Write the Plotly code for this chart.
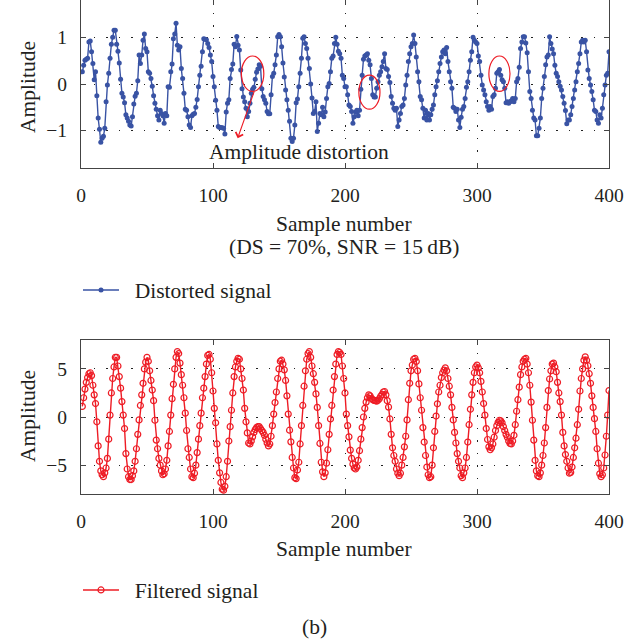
import plotly.graph_objects as go

samples = list(range(1, 401))

distorted = [
    0.26, 0.4, 0.51, 0.53, 0.55, 0.9, 0.92, 0.69, 0.44, 0.09,
    0.26, -0.25, -0.73, -0.97, -1.25, -1.16, -1.12, -0.95, -0.38, -0.02,
    0.23, 0.55, 0.85, 1.0, 1.15, 1.15, 0.85, 0.7, 0.45, 0.1,
    -0.2, -0.28, -0.4, -0.66, -0.73, -0.8, -0.88, -0.9, -0.7, -0.43,
    -0.26, -0.2, 0.07, 0.62, 0.44, 0.62, 0.94, 1.07, 0.76, 0.69,
    0.26, 0.23, 0.12, -0.05, -0.25, -0.41, -0.54, -0.68, -0.77, -0.56,
    -0.63, -0.68, -0.84, -0.63, -0.68, -0.06, -0.07, 0.26, 0.43, 0.97,
    1.07, 1.3, 0.83, 0.73, 0.8, 0.33, 0.12, -0.2, -0.54, -0.56,
    -0.7, -0.88, -0.93, -0.68, -0.65, -0.63, -0.5, -0.33, -0.06, 0.19,
    0.38, 0.69, 0.97, 0.96, 0.95, 0.87, 0.78, 0.62, 0.48, 0.16,
    -0.06, -0.35, -0.56, -0.91, -0.93, -0.93, -0.94, -0.95, -1.07, -0.6,
    -0.41, -0.34, 0.12, 0.31, 0.43, 0.85, 0.8, 1.02, 0.83, 0.73,
    0.3, -0.1, -0.28, -0.38, -0.52, -0.7, -0.59, -0.41, -0.2, -0.11,
    -0.07, 0.1, 0.25, 0.32, 0.41, 0.38, -0.1, -0.27, -0.34, -0.41,
    -0.59, -0.64, -0.64, -0.23, 0.16, 0.23, 0.41, 0.62, 1.01, 1.06,
    1.01, 0.8, 0.45, 0.15, -0.13, -0.34, -0.56, -0.8, -1.16, -1.23,
    -1.16, -0.88, -0.4, -0.32, -0.06, 0.23, 0.55, 0.98, 1.01, 0.87,
    0.76, 0.55, 0.33, 0.0, -0.3, -0.63, -0.59, -0.38, -1.02, -0.84,
    -0.63, -0.66, -0.5, -0.7, -0.6, -0.31, -0.06, 0.01, 0.26, 0.55,
    0.6, 0.87, 1.0, 0.85, 0.7, 0.65, 0.55, 0.19, 0.12, -0.06,
    -0.06, -0.23, -0.45, -0.48, -0.59, -0.84, -0.7, -0.6, -0.56, -0.68,
    -0.56, -0.11, 0.19, 0.53, 0.6, 0.62, 0.65, 0.51, 0.41, 0.12,
    -0.23, -0.28, -0.28, -0.09, 0.05, 0.19, 0.26, 0.37, 0.48, 0.65,
    0.33, 0.31, 0.16, 0.03, -0.27, -0.41, -0.52, -0.56, -0.52, -0.91,
    -0.77, -0.63, -0.48, -0.45, -0.31, -0.02, 0.19, 0.48, 0.65, 0.8,
    0.87, 1.05, 0.87, 0.58, 0.26, 0.05, -0.27, -0.34, -0.52, -0.73,
    -0.56, -0.77, -0.63, -0.77, -0.66, -0.54, -0.45, -0.23, -0.06, 0.07,
    0.26, 0.44, 0.58, 0.69, 0.73, 0.65, 0.78, 0.48, 0.26, 0.05,
    -0.09, -0.5, -0.52, -0.59, -0.54, -0.77, -0.93, -0.71, -0.54, -0.48,
    -0.31, -0.07, 0.05, 0.26, 0.51, 0.69, 1.0, 0.94, 0.9, 0.87,
    0.6, 0.48, 0.19, -0.02, -0.13, -0.23, -0.38, -0.48, -0.56, -0.48,
    -0.54, -0.27, -0.23, -0.09, 0.23, 0.26, 0.31, 0.19, 0.09, 0.05,
    -0.09, -0.4, -0.38, -0.41, -0.38, -0.36, -0.31, -0.38, -0.31, 0.05,
    0.12, 0.36, 0.76, 0.9, 1.01, 1.01, 0.88, 0.67, 0.26, -0.16,
    -0.31, -0.56, -0.73, -0.77, -1.11, -1.11, -0.95, -0.73, -0.31, -0.09,
    0.16, 0.41, 0.58, 0.62, 1.01, 0.87, 0.75, 0.65, 0.4, 0.23,
    0.16, 0.05, -0.05, -0.13, -0.27, -0.41, -0.57, -0.85, -0.77, -0.77,
    -0.66, -0.48, -0.31, -0.13, 0.05, 0.26, 0.44, 0.65, 0.9, 0.94,
    0.9, 0.94, 0.69, 0.3, 0.12, -0.02, -0.16, -0.34, -0.56, -0.59,
    -0.77, -0.84, -0.66, -0.73, -0.52, -0.23, -0.02, 0.19, 0.23, 0.69,
]

filtered = [
    1.1, 2.0, 2.9, 3.6, 4.1, 4.5, 4.6, 4.3, 3.3, 2.3,
    1.4, -0.5, -3.0, -4.6, -5.6, -6.0, -6.2, -5.8, -5.3, -4.3,
    -2.3, 0.2, 2.5, 4.0, 5.2, 6.2, 6.2, 5.3, 4.2, 3.0,
    1.6, 0.2, -1.2, -3.8, -5.4, -6.2, -6.5, -6.5, -6.1, -5.6,
    -4.6, -3.3, -1.8, -0.3, 1.2, 2.3, 3.5, 5.0, 5.7, 6.2,
    5.8, 4.8, 3.8, 2.8, 1.7, -0.34, -2.4, -3.3, -4.3, -5.0,
    -5.6, -6.0, -5.9, -5.4, -4.5, -3.0, -1.5, 0.2, 1.9, 3.4,
    5.0, 6.2, 6.8, 6.6, 5.6, 4.4, 3.3, 2.0, 0.4, -1.4,
    -3.3, -4.2, -5.4, -6.2, -6.3, -5.84, -5.0, -3.7, -2.3, -0.9,
    0.4, 2.0, 3.0, 4.2, 5.5, 6.4, 6.5, 6.0, 4.6, 2.7,
    0.9, -0.6, -2.8, -4.5, -5.8, -6.8, -7.5, -7.6, -7.2, -6.2,
    -4.6, -2.5, -1.0, 0.7, 2.5, 4.2, 5.2, 5.8, 6.1, 6.0,
    5.0, 4.0, 2.8, 0.9, -0.5, -1.65, -2.7, -2.8, -2.5, -2.06,
    -1.6, -1.3, -1.1, -1.0, -1.0, -1.2, -1.4, -1.6, -1.9, -2.3,
    -2.7, -3.0, -2.8, -2.0, -0.9, 0.3, 1.5, 2.6, 4.0, 5.0,
    5.8, 5.9, 5.5, 4.9, 3.8, 2.2, 0.3, -1.37, -2.58, -4.2,
    -5.3, -6.3, -6.4, -5.5, -4.7, -2.8, -0.9, 1.2, 3.2, 4.8,
    6.0, 6.6, 6.8, 6.2, 5.3, 4.5, 3.6, 2.4, 1.0, -0.9,
    -2.75, -4.7, -5.7, -6.2, -5.8, -4.8, -3.4, -1.8, -0.2, 1.2,
    2.8, 4.2, 5.5, 6.5, 6.8, 6.7, 6.5, 5.3, 4.0, 2.5,
    0.3, -0.9, -2.06, -3.44, -4.3, -4.9, -5.3, -5.4, -5.2, -4.5,
    -3.5, -2.3, -1.1, 0.0, 0.9, 1.55, 2.0, 2.3, 2.2, 1.95,
    1.8, 1.72, 1.7, 1.65, 1.75, 1.9, 2.15, 2.34, 2.6, 2.65,
    2.3, 1.7, 1.03, -0.2, -1.8, -3.2, -4.0, -4.6, -5.4, -5.84,
    -6.1, -5.84, -5.0, -4.2, -3.1, -2.0, -0.3, 1.8, 3.5, 4.8,
    5.4, 6.0, 6.1, 5.77, 4.8, 3.44, 2.0, 0.7, -1.1, -2.6,
    -4.0, -5.2, -6.0, -6.3, -6.2, -5.0, -3.2, -1.5, 0.1, 1.37,
    2.6, 3.3, 4.1, 4.6, 4.88, 5.1, 4.8, 4.0, 3.2, 2.3,
    1.0, -0.3, -1.6, -2.7, -3.8, -4.6, -5.3, -6.1, -6.3, -5.8,
    -5.3, -4.2, -2.6, -0.8, 0.8, 2.3, 3.6, 4.6, 5.2, 5.4,
    5.1, 4.6, 3.7, 2.6, 1.4, 0.2, -1.2, -2.34, -3.1, -3.4,
    -3.2, -2.8, -2.1, -1.4, -0.9, -0.55, -0.34, -0.4, -0.6, -1.0,
    -1.4, -1.8, -2.1, -2.5, -2.75, -2.8, -2.5, -1.9, -0.8, 0.6,
    1.8, 3.1, 4.4, 5.2, 5.8, 6.0, 6.1, 5.5, 4.6, 3.3,
    1.55, -0.34, -2.4, -4.5, -5.6, -6.1, -6.2, -5.8, -5.0, -4.0,
    -2.7, -1.1, 1.0, 2.75, 3.95, 4.8, 5.5, 5.6, 5.2, 4.7,
    3.6, 2.5, 1.6, 0.2, -1.6, -3.0, -3.9, -4.6, -5.3, -5.84,
    -5.75, -5.2, -4.2, -3.2, -2.2, -0.8, 0.8, 2.7, 4.0, 5.0,
    5.9, 6.25, 5.9, 5.33, 4.5, 3.5, 2.2, 1.0, -0.17, -1.5,
    -3.3, -4.8, -5.9, -6.2, -6.0, -5.3, -3.95, -2.0, 0.2, 2.75,
]

x_ticks = [0, 100, 200, 300, 400]
top_y_ticks = [-1, 0, 1]
bottom_y_ticks = [-5, 0, 5]

# distortion highlights: (x0, x1, y0, y1)
ellipses = [(121.5, 138.5, -0.16, 0.6), (210.5, 226.5, -0.54, 0.19), (309, 325, -0.16, 0.6)]

BLUE = "#3953A4"
RED = "#EE1C25"
FONT = "Liberation Serif"
TXT = "#231f20"
TS = 21.5

W, H = 638, 642
ML, MR = 81, 29
PW = W - ML - MR


def px_x(p):
    return (p - ML) / PW


def px_y(p):
    return 1 - p / H


fig = go.Figure()
fig.add_trace(go.Scatter(
    x=samples, y=distorted, mode="lines+markers", name="\u00a0\u00a0Distorted signal",
    line=dict(color=BLUE, width=1.4), marker=dict(color=BLUE, size=5),
    xaxis="x", yaxis="y", legend="legend"))
fig.add_trace(go.Scatter(
    x=samples, y=filtered, mode="lines+markers", name="\u00a0\u00a0Filtered signal",
    line=dict(color=RED, width=1.4),
    marker=dict(symbol="circle-open", color=RED, size=6, line=dict(width=1.2, color=RED)),
    xaxis="x2", yaxis="y2", legend="legend2"))

axis_common = dict(
    showline=True, linecolor="#444", linewidth=1.3, mirror="allticks",
    ticks="inside", ticklen=5, tickcolor="#444",
    showgrid=True, gridcolor="#222", gridwidth=1, griddash="1.5px,11px",
    zeroline=False, tickfont=dict(family=FONT, size=19.5, color=TXT),
)

fig.update_layout(
    width=W, height=H,
    margin=dict(l=ML, r=MR, t=0, b=0),
    paper_bgcolor="white", plot_bgcolor="white",
    font=dict(family=FONT, color=TXT),
    xaxis=dict(domain=[0, 1], range=[0, 400], tickvals=x_ticks, anchor="y",
               ticklabelstandoff=9, **axis_common),
    yaxis=dict(domain=[px_y(168), 1], range=[-1.8, 1.8], tickvals=top_y_ticks, anchor="x",
               ticklabelstandoff=9, **axis_common),
    xaxis2=dict(domain=[0, 1], range=[0, 400], tickvals=x_ticks, anchor="y2",
                ticklabelstandoff=9, **axis_common),
    yaxis2=dict(domain=[px_y(494), px_y(340)], range=[-8, 8], tickvals=bottom_y_ticks, anchor="x2",
                ticklabelstandoff=9, **axis_common),
    legend=dict(x=px_x(78), y=px_y(290), xanchor="left", yanchor="middle",
                font=dict(family=FONT, size=TS, color=TXT), bgcolor="rgba(0,0,0,0)", itemwidth=36),
    legend2=dict(x=px_x(78), y=px_y(590), xanchor="left", yanchor="middle",
                 font=dict(family=FONT, size=TS, color=TXT), bgcolor="rgba(0,0,0,0)", itemwidth=36),
    showlegend=True,
)

for (x0, x1, y0, y1) in ellipses:
    fig.add_shape(type="circle", xref="x", yref="y", x0=x0, x1=x1, y0=y0, y1=y1,
                  line=dict(color=RED, width=1.2))

annos = [
    dict(x=118.7, y=-1.16, ax=131.6, ay=-0.13, xref="x", yref="y", axref="x", ayref="y",
         text="", showarrow=True, arrowhead=4, arrowsize=1.4, arrowwidth=1.1, arrowcolor=RED),
    dict(x=164.8, y=-1.45, xref="x", yref="y", text="Amplitude distortion", showarrow=False,
         xanchor="center", yanchor="middle", font=dict(family=FONT, size=TS, color=TXT)),
    dict(x=px_x(344), y=px_y(224), xref="paper", yref="paper", text="Sample number",
         xanchor="center", yanchor="middle", showarrow=False, font=dict(family=FONT, size=TS, color=TXT)),
    dict(x=px_x(344), y=px_y(247), xref="paper", yref="paper", text="(DS = 70%, SNR = 15\u2009dB)",
         xanchor="center", yanchor="middle", showarrow=False, font=dict(family=FONT, size=TS, color=TXT)),
    dict(x=px_x(344), y=px_y(549), xref="paper", yref="paper", text="Sample number",
         xanchor="center", yanchor="middle", showarrow=False, font=dict(family=FONT, size=TS, color=TXT)),
    dict(x=px_x(314), y=px_y(627), xref="paper", yref="paper", text="(b)",
         xanchor="center", yanchor="middle", showarrow=False, font=dict(family=FONT, size=TS, color=TXT)),
    dict(x=px_x(28), y=px_y(87), xref="paper", yref="paper", text="Amplitude", textangle=-90,
         xanchor="center", yanchor="middle", showarrow=False, font=dict(family=FONT, size=TS, color=TXT)),
    dict(x=px_x(28), y=px_y(416), xref="paper", yref="paper", text="Amplitude", textangle=-90,
         xanchor="center", yanchor="middle", showarrow=False, font=dict(family=FONT, size=TS, color=TXT)),
]
for a in annos:
    fig.add_annotation(**a)

fig.write_html("out.html", config={"displayModeBar": False},
               post_script="document.body.style.margin='0px';")
